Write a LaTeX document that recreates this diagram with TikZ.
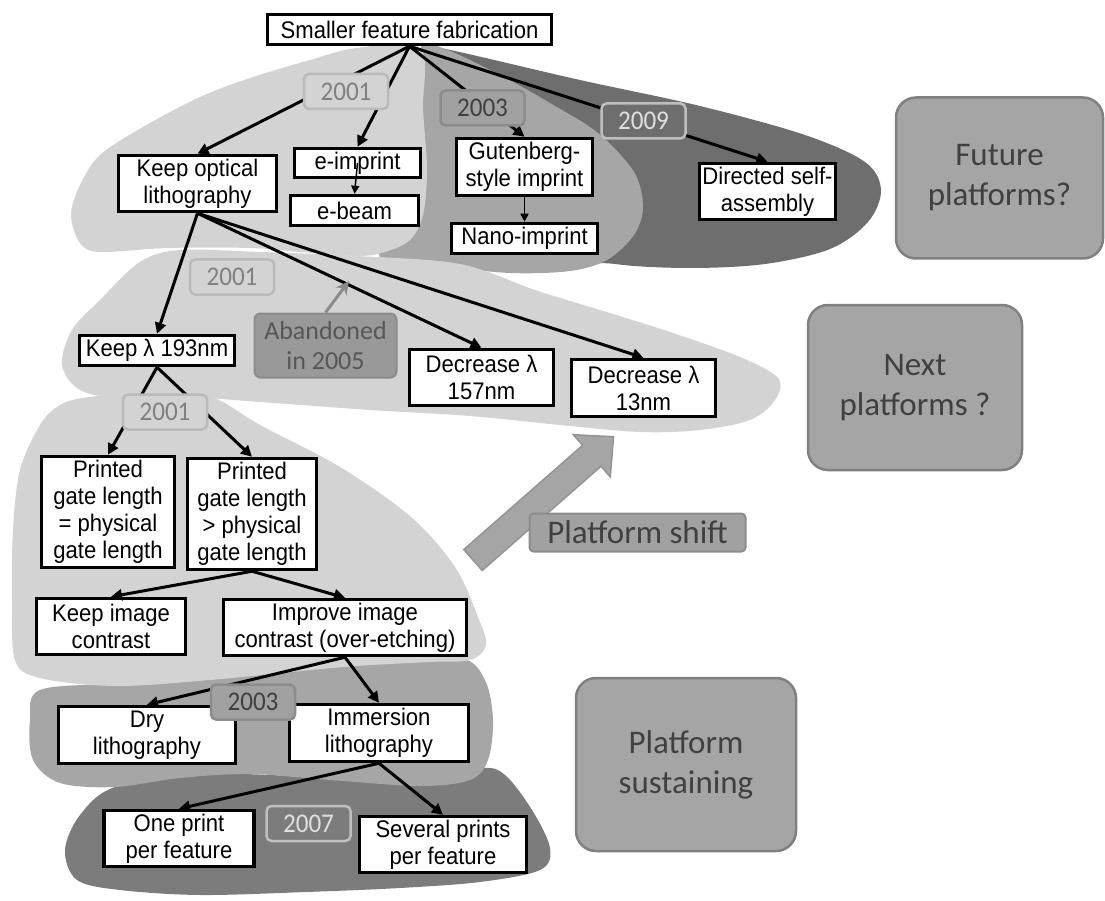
\documentclass[tikz,border=0pt]{standalone}
\usepackage{fontspec}
\setmainfont{Liberation Sans}
\newfontfamily\boxfont[FakeStretch=0.92]{Liberation Sans}
\newfontfamily\calib{Carlito}
\newfontfamily\calibn[FakeStretch=0.93]{Carlito}
\usetikzlibrary{arrows.meta}
\definecolor{lgray}{HTML}{D3D3D3}
\definecolor{mgray}{HTML}{A6A6A6}
\definecolor{dgray}{HTML}{6E6E6E}
\definecolor{dgrayb}{HTML}{7C7C7C}
\definecolor{platfill}{HTML}{A5A5A5}
\definecolor{platborder}{HTML}{808080}
\definecolor{plattext}{HTML}{404040}
\begin{document}
\begin{tikzpicture}[x=1pt,y=-1pt,
  box/.style={draw=black, line width=3.5pt, fill=white, align=center, inner sep=1pt,
    font=\boxfont\fontsize{24}{27}\selectfont},
  yr/.style={rounded corners=5pt, line width=2.5pt, minimum width=84pt, minimum height=35pt,
    inner sep=0pt, font=\calibn\fontsize{27}{30}\selectfont},
  yrlight/.style={yr, fill=lgray, draw=black!27, text=black!50},
  yrmed/.style={yr, fill=black!37, draw=black!45, text=black!75},
  yrdark/.style={yr, fill=dgray, draw=black!25, text=black!12},
  plat/.style={draw=platborder, fill=platfill, line width=2.5pt, rounded corners=20pt,
    align=center, text=plattext, inner sep=0pt, font=\calib\fontsize{33}{40}\selectfont},
  arr/.style={line width=3pt, -{Triangle[length=11pt,width=11pt]}},
  thinarr/.style={line width=1.5pt, -{Triangle[length=8pt,width=8pt]}},
  garr/.style={line width=3pt, draw=black!45, -{Stealth[length=13pt,width=13pt]}}
]
\useasboundingbox (0,0) rectangle (1105,901);

% ---- blobs (top group)
\fill[dgray] plot[smooth cycle, tension=0.55] coordinates {
 (430,46) (580,80) (700,106) (805,135) (865,162) (881,190) (868,222) (830,249)
 (765,264) (690,268) (615,264) (560,250) (490,150) (445,60)};
\fill[mgray] plot[smooth cycle, tension=0.55] coordinates {
 (421,47) (445,49) (500,75) (550,103) (598,133) (634,172) (643,207) (634,235)
 (607,260) (570,271) (510,273) (440,266) (380,258) (400,200) (415,100)};
\fill[lgray] plot[smooth cycle, tension=0.55] coordinates {
 (357,48) (420,48) (423,110) (427,170) (423,215) (410,240) (385,252) (357,256)
 (300,252) (250,248) (168,248) (100,252) (80,243) (71,215) (80,185) (100,155)
 (143,127) (200,97) (250,78) (310,60)};
\fill[lgray] plot[smooth cycle, tension=0.55] coordinates {
 (100,300) (140,262) (180,250) (260,252) (357,256) (460,264) (535,290) (600,310)
 (670,332) (740,357) (778,378) (775,400) (750,420) (700,430) (640,432) (560,425)
 (470,416) (370,410) (260,402) (200,398) (120,398) (80,390) (62,365) (72,330)};
% ---- blobs (bottom group)
\fill[dgrayb] plot[smooth cycle, tension=0.55] coordinates {
 (115,787) (200,774) (300,776) (400,778) (480,768) (505,775) (532,810) (550,848)
 (540,870) (480,882) (400,888) (306,892) (200,895) (120,890) (77,880) (65,850) (80,815)};
\fill[mgray] plot[smooth cycle, tension=0.55] coordinates {
 (40,690) (120,683) (250,672) (380,662) (460,658) (485,680) (493,720) (488,760)
 (470,780) (420,786) (330,780) (250,774) (180,778) (115,787) (60,783) (33,760) (30,720)};
\fill[lgray] plot[smooth cycle, tension=0.55] coordinates {
 (89,397) (150,393) (211,397) (260,425) (340,467) (411,517) (455,567) (478,617)
 (486,645) (470,660) (430,662) (344,667) (210,680) (115,686) (40,678) (15,660)
 (12,600) (13,530) (20,470) (40,425) (60,405)};

% ---- platform shift block arrow
\fill[platfill, draw=black!42, line width=1.5pt]
 (463.8,549.5) -- (582.6,445.3) -- (573.3,434.7) -- (613.6,436.7)
 -- (610.3,476.9) -- (601,466.3) -- (482.2,570.5) -- cycle;

% ---- nodes
\node[box, minimum width=284pt, minimum height=30pt] (root) at (409.5,29.5) {Smaller feature fabrication};
\node[box, minimum width=158pt, minimum height=56pt] (kol) at (197.5,183.5) {Keep optical\\lithography};
\node[box, minimum width=126pt, minimum height=29pt] (eimp) at (357.5,163) {e-imprint};
\node[box, minimum width=128pt, minimum height=30pt] (ebeam) at (354.5,210.5) {e-beam};
\node[box, minimum width=136pt, minimum height=57pt] (gut) at (524.5,167) {Gutenberg-\\style imprint};
\node[box, minimum width=146pt, minimum height=30pt] (nano) at (524.5,238.5) {Nano-imprint};
\node[box, minimum width=136pt, minimum height=56pt] (dsa) at (767.5,191.5) {Directed self-\\assembly};
\node[box, minimum width=155pt, minimum height=30pt] (klam) at (157,350.5) {Keep λ 193nm};
\node[box, minimum width=144pt, minimum height=56pt] (d157) at (481.5,377.5) {Decrease λ\\157nm};
\node[box, minimum width=144pt, minimum height=57pt] (d13) at (643.5,388) {Decrease λ\\13nm};
\node[box, minimum width=133pt, minimum height=111pt] (peq) at (108,512) {Printed\\gate length\\= physical\\gate length};
\node[box, minimum width=129pt, minimum height=111pt] (pgt) at (252,514) {Printed\\gate length\\> physical\\gate length};
\node[box, minimum width=149pt, minimum height=56pt] (kic) at (111,626.5) {Keep image\\contrast};
\node[box, minimum width=243pt, minimum height=56pt] (iic) at (345,627.5) {Improve image\\contrast (over-etching)};
\node[box, minimum width=177pt, minimum height=57pt] (dry) at (147,735) {Dry\\lithography};
\node[box, minimum width=179pt, minimum height=57pt] (imm) at (379,733) {Immersion\\lithography};
\node[box, minimum width=150pt, minimum height=56pt] (one) at (179,838.5) {One print\\per feature};
\node[box, minimum width=167pt, minimum height=56pt] (sev) at (443,844.5) {Several prints\\per feature};

\node[plat, minimum width=207pt, minimum height=161pt] (future) at (999.5,178) {Future\\platforms?};
\node[plat, minimum width=214pt, minimum height=165pt] (next) at (915,387.5) {Next\\platforms ?};
\node[plat, minimum width=220pt, minimum height=173pt] (sust) at (686,764.5) {Platform\\sustaining};
\node[plat, rounded corners=4pt, line width=2pt, draw=black!45, fill=black!37,
  minimum width=216pt, minimum height=38pt] (pshift) at (637.5,532.5) {Platform shift};
\node[plat, rounded corners=6pt, line width=2pt, draw=black!45, fill=black!40, text=black!66,
  minimum width=142pt, minimum height=64pt, font=\calib\fontsize{26}{30}\selectfont]
  (aband) at (325.5,345.5) {Abandoned\\in 2005};

% ---- connectors
\draw[arr] (root.south) -- (kol.north);
\draw[arr] (root.south) -- (eimp.north);
\draw[arr] (root.south) -- (gut.north);
\draw[arr] (root.south) -- (dsa.north);
\draw[thinarr] (eimp.center) -- (ebeam.north);
\draw[thinarr] (gut.south) -- (nano.north);
\draw[arr] (kol.south) -- (klam.north);
\draw[arr] (kol.south) -- (d157.north);
\draw[arr] (kol.south) -- (d13.north);
\draw[arr] (klam.south) -- (peq.north);
\draw[arr] (klam.south) -- (pgt.north);
\draw[arr] (pgt.south) -- (kic.north);
\draw[arr] (pgt.south) -- (iic.north);
\draw[arr] (iic.south) -- (dry.north);
\draw[arr] (iic.south) -- (imm.north);
\draw[arr] (imm.south) -- (one.north);
\draw[arr] (imm.south) -- (sev.north);
\coordinate (abtip) at (349,281);
\draw[garr] (aband.north) -- (abtip);

% ---- year labels
\node[yrlight] (y1) at (346,91.5) {2001};
\node[yrlight] (y2) at (232,277) {2001};
\node[yrlight] (y3) at (165,412) {2001};
\node[yrmed] (y4) at (482.5,108) {2003};
\node[yrdark] (y5) at (643.5,121) {2009};
\node[yrmed] (y6) at (253,702) {2003};
\node[yrdark, fill=dgrayb] (y7) at (308.5,823.5) {2007};
\end{tikzpicture}
\end{document}
